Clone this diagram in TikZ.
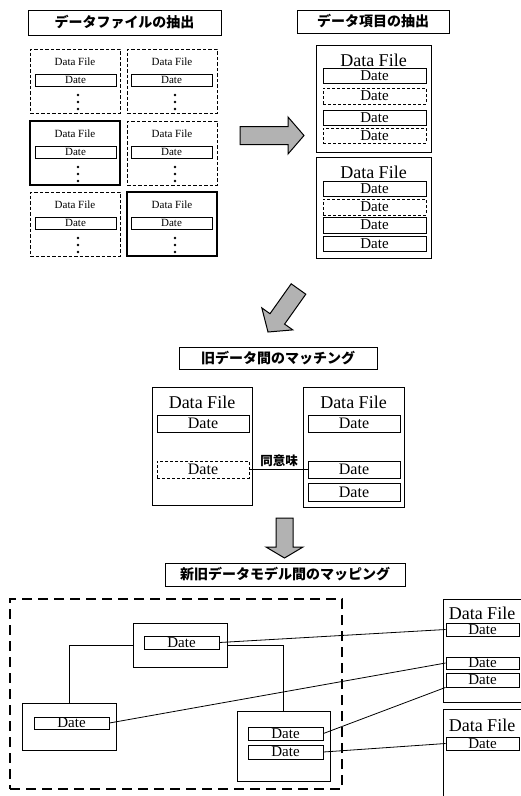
\documentclass[tikz,border=0pt]{standalone}
\usepackage{fontspec}
\setmainfont{Liberation Serif}
\newfontfamily\jp{Noto Sans CJK JP}
\tikzset{
  box/.style={draw, line width=0.8pt, inner sep=0pt, rectangle},
  dbox/.style={box, dash pattern=on 3.5pt off 2pt},
  tbox/.style={draw, line width=2.4pt, inner sep=0pt, rectangle},
  datebox/.style={draw, line width=0.8pt, inner sep=0pt, rectangle},
  ddatebox/.style={datebox, dash pattern=on 3pt off 2pt},
  titlebox/.style={draw, line width=0.8pt, inner sep=0pt, rectangle, font=\jp\bfseries\fontsize{14}{14}\selectfont},
  bigarrow/.style={draw, line width=1pt, fill=black!30, line join=miter},
  conn/.style={line width=0.8pt},
  smalltxt/.style={inner sep=0pt, font=\fontsize{11}{11}\selectfont},
  bigtxt/.style={inner sep=0pt, font=\fontsize{18}{18}\selectfont},
  midtxt/.style={font=\fontsize{15}{15}\selectfont},
  dotmark/.style={circle, fill, inner sep=0pt, minimum size=2.6pt},
}
\newcommand\gcell[5]{% name, cx, top, box style, date cx
  \node[#4, minimum width=90, minimum height=64] (#1) at (#2,#3+32) {};
  \node[smalltxt] (#1t) at (#2,#3+13) {Data File};
  \node[datebox, smalltxt, minimum width=81, minimum height=12] (#1d) at (#5,#3+31) {Date};
  \node[dotmark] (#1p1) at (#2+3,#3+46) {};
  \node[dotmark] (#1p2) at (#2+3,#3+53) {};
  \node[dotmark] (#1p3) at (#2+3,#3+60) {};
}
\begin{document}
\begin{tikzpicture}[x=1pt, y=-1pt]
\path[use as bounding box, fill=white] (0,0) rectangle (521,796);
\clip (0,0) rectangle (521,796);

% ---------- titles ----------
\node[titlebox, minimum width=193, minimum height=25] (t1) at (124.5,22.5) {データファイルの抽出};
\node[titlebox, minimum width=152, minimum height=23] (t2) at (373,21.5) {データ項目の抽出};
\node[titlebox, minimum width=198, minimum height=22] (t3) at (278,358) {旧データ間のマッチング};
\node[titlebox, minimum width=240, minimum height=23] (t4) at (285,574.5) {新旧データモデル間のマッピング};

% ---------- grid of files ----------
\gcell{g11}{75}{49}{dbox}{75.5}
\gcell{g12}{172}{49}{dbox}{171.5}
\gcell{g21}{75}{121}{tbox}{75.5}
\gcell{g22}{172}{121}{dbox}{171.5}
\gcell{g31}{75}{192}{dbox}{75.5}
\gcell{g32}{172}{192}{tbox}{171.5}

% ---------- right arrow ----------
\draw[bigarrow] (240,126.5) -- (288,126.5) -- (288,117) -- (304,135.5) -- (288,154) -- (288,144.5) -- (240,144.5) -- cycle;

% ---------- extracted items ----------
\node[box, minimum width=115, minimum height=107] (r1) at (373.5,98.5) {};
\node[bigtxt] (r1t) at (373.5,60) {Data File};
\node[datebox, midtxt, inner sep=0pt, minimum width=103, minimum height=15] (r1a) at (374.5,75.5) {Date};
\node[ddatebox, midtxt, inner sep=0pt, minimum width=103, minimum height=16] (r1b) at (374.5,96) {Date};
\node[datebox, midtxt, inner sep=0pt, minimum width=103, minimum height=15] (r1c) at (374.5,117.5) {Date};
\node[ddatebox, midtxt, inner sep=0pt, minimum width=103, minimum height=15] (r1d) at (374.5,135.5) {Date};

\node[box, minimum width=115, minimum height=101] (r2) at (373.5,207.5) {};
\node[bigtxt] (r2t) at (373.5,172) {Data File};
\node[datebox, midtxt, inner sep=0pt, minimum width=103, minimum height=15] (r2a) at (374.5,188.5) {Date};
\node[ddatebox, midtxt, inner sep=0pt, minimum width=103, minimum height=16] (r2b) at (374.5,207) {Date};
\node[datebox, midtxt, inner sep=0pt, minimum width=103, minimum height=16] (r2c) at (374.5,225) {Date};
\node[datebox, midtxt, inner sep=0pt, minimum width=103, minimum height=15] (r2d) at (374.5,243.5) {Date};

% ---------- diagonal arrow ----------
\draw[bigarrow] (291.2,283.8) -- (305.8,294.2) -- (284.6,324.1) -- (292.8,329.9) -- (268,332) -- (261.8,307.9) -- (270.0,313.7) -- cycle;

% ---------- matching ----------
\node[box, minimum width=100, minimum height=118] (m1) at (202,446) {};
\node[bigtxt] (m1t) at (202,402) {Data File};
\node[datebox, midtxt, font=\fontsize{16}{16}\selectfont, minimum width=92, minimum height=17] (m1a) at (203,423.5) {Date};
\node[ddatebox, midtxt, font=\fontsize{16}{16}\selectfont, minimum width=92, minimum height=17] (m1b) at (203,469.5) {Date};

\node[box, minimum width=101, minimum height=120] (m2) at (353.5,447) {};
\node[bigtxt] (m2t) at (353.5,402) {Data File};
\node[datebox, midtxt, font=\fontsize{16}{16}\selectfont, minimum width=92, minimum height=17] (m2a) at (354,423.5) {Date};
\node[datebox, midtxt, font=\fontsize{16}{16}\selectfont, minimum width=92, minimum height=17] (m2b) at (354,469.5) {Date};
\node[datebox, midtxt, font=\fontsize{16}{16}\selectfont, minimum width=92, minimum height=18] (m2c) at (354,492) {Date};

\draw[conn] (m1b.east) -- (m2b.west);
\node[inner sep=0pt, font=\jp\bfseries\fontsize{12.5}{12.5}\selectfont] (same) at (279,461) {同意味};

% ---------- down arrow ----------
\draw[bigarrow] (276,518) -- (293,518) -- (293,547) -- (303,547) -- (284.5,558) -- (266,547) -- (276,547) -- cycle;

% ---------- mapping ----------
\node[draw, line width=2.5pt, dash pattern=on 10pt off 6pt, inner sep=0pt, minimum width=332, minimum height=190] (big) at (176,694) {};

\node[box, minimum width=94, minimum height=44] (tb) at (180,645) {};
\node[datebox, midtxt, minimum width=75, minimum height=13] (td) at (181.5,642.5) {Date};
\node[box, minimum width=94, minimum height=47] (lb) at (69,726.5) {};
\node[datebox, midtxt, minimum width=75, minimum height=12] (ld) at (71.5,723) {Date};
\node[box, minimum width=93, minimum height=70] (bb) at (283.5,746) {};
\node[datebox, midtxt, minimum width=75, minimum height=13] (bd1) at (285.5,733.5) {Date};
\node[datebox, midtxt, minimum width=75, minimum height=14] (bd2) at (285.5,752) {Date};

\draw[conn] (tb.west) -| (lb.north);
\draw[conn] (tb.east) -| (bb.north);

\node[box, minimum width=97, minimum height=103] (rc1) at (491.5,650.5) {};
\node[bigtxt] (rc1t) at (482,613) {Data File};
\node[datebox, midtxt, minimum width=73, minimum height=13] (rc1a) at (482.5,629.5) {Date};
\node[datebox, midtxt, minimum width=73, minimum height=12] (rc1b) at (482.5,663) {Date};
\node[datebox, midtxt, minimum width=73, minimum height=14] (rc1c) at (482.5,680) {Date};

\node[box, minimum width=97, minimum height=101] (rc2) at (491.5,759.5) {};
\node[bigtxt] (rc2t) at (482,725) {Data File};
\node[datebox, midtxt, minimum width=73, minimum height=13] (rc2a) at (482.5,743.5) {Date};

\draw[conn] (td.east) -- (rc1a.west);
\draw[conn] (ld.east) -- (rc1b.west);
\draw[conn] (bd1.east) -- (rc1c.south west);
\draw[conn] (bd2.east) -- (rc2a.west);
\end{tikzpicture}
\end{document}
